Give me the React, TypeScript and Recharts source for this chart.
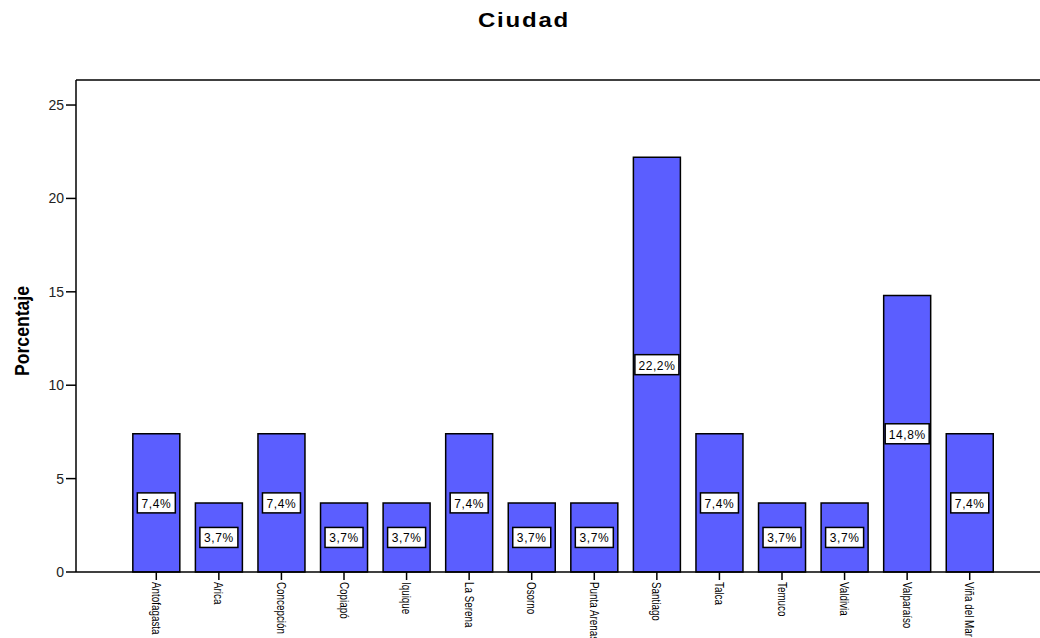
import React from "react";
import { BarChart, Bar, XAxis, YAxis, LabelList, ReferenceLine } from "recharts";

const categories = ["Antofagasta", "Arica", "Concepción", "Copiapó", "Iquique", "La Serena", "Osorno", "Punta Arenas", "Santiago", "Talca", "Temuco", "Valdivia", "Valparaíso", "Viña del Mar"];
const percentages = [7.4, 3.7, 7.4, 3.7, 3.7, 7.4, 3.7, 3.7, 22.2, 7.4, 3.7, 3.7, 14.8, 7.4];
const yTicks = [0, 5, 10, 15, 20, 25];
const yMax = 26.34;

const data = categories.map((c, i) => ({ ciudad: c, pct: percentages[i] }));

const SANS = "'Liberation Sans', Arial, sans-serif";

const XTick = (props: any) => {
  const { x, payload } = props;
  return (
    <g transform={`translate(${x},${582})`}>
      <text transform="rotate(90) scale(0.82,1)" textAnchor="start" dominantBaseline="central" fontSize={12} fontFamily={SANS} fill="#000">
        {payload.value}
      </text>
    </g>
  );
};

const BoxLabel = (props: any) => {
  const { x, y, width, height, value } = props;
  const cx = x + width / 2;
  const cy = y + height / 2;
  const txt = value.toFixed(1).replace(".", ",") + "%";
  const w = txt.length > 4 ? 44 : 38;
  return (
    <g>
      <rect x={cx - w / 2} y={cy - 10} width={w} height={20} fill="#fff" stroke="#000" strokeWidth={1.5} />
      <text x={cx} y={cy + 1} textAnchor="middle" dominantBaseline="central" fontSize={12} letterSpacing={0.6} fontFamily={SANS} fill="#000">
        {txt}
      </text>
    </g>
  );
};

export default function App() {
  return (
    <div style={{ position: "absolute", left: 0, top: 0, width: 1040, height: 638, background: "#fff" }}>
      <div style={{ position: "absolute", left: 524, top: 20, transform: "translate(-50%,-50%) scaleX(1.2)", fontFamily: SANS, fontWeight: "bold", fontSize: 20, letterSpacing: 1.5, color: "#000", whiteSpace: "nowrap" }}>
        Ciudad
      </div>
      <div style={{ position: "absolute", left: 22, top: 331, transform: "translate(-50%,-50%) rotate(-90deg) scaleX(0.88)", fontFamily: SANS, fontWeight: "bold", fontSize: 20, whiteSpace: "nowrap" }}>
        Porcentaje
      </div>
      <BarChart width={1040} height={638} data={data} margin={{ top: 80, right: 0, bottom: 0, left: 0 }} barCategoryGap="12.5%">
        <XAxis
          dataKey="ciudad"
          interval={0}
          height={66}
          tick={<XTick />}
          tickSize={8}
          padding={{ left: 49, right: 39 }}
          axisLine={{ stroke: "#000", strokeWidth: 1.5 }}
          tickLine={{ stroke: "#000", strokeWidth: 1.5 }}
        />
        <YAxis
          width={76}
          domain={[0, yMax]}
          ticks={yTicks}
          tickSize={10}
          tick={{ fontSize: 14, fontFamily: SANS, fill: "#222" }}
          axisLine={{ stroke: "#000", strokeWidth: 1.5 }}
          tickLine={{ stroke: "#000", strokeWidth: 1.5 }}
        />
        <ReferenceLine y={yMax} stroke="#000" strokeWidth={1.5} ifOverflow="visible" />
        <Bar dataKey="pct" fill="#5B5EFF" stroke="#000" strokeWidth={1.5} isAnimationActive={false}>
          <LabelList dataKey="pct" content={<BoxLabel />} />
        </Bar>
      </BarChart>
    </div>
  );
}
